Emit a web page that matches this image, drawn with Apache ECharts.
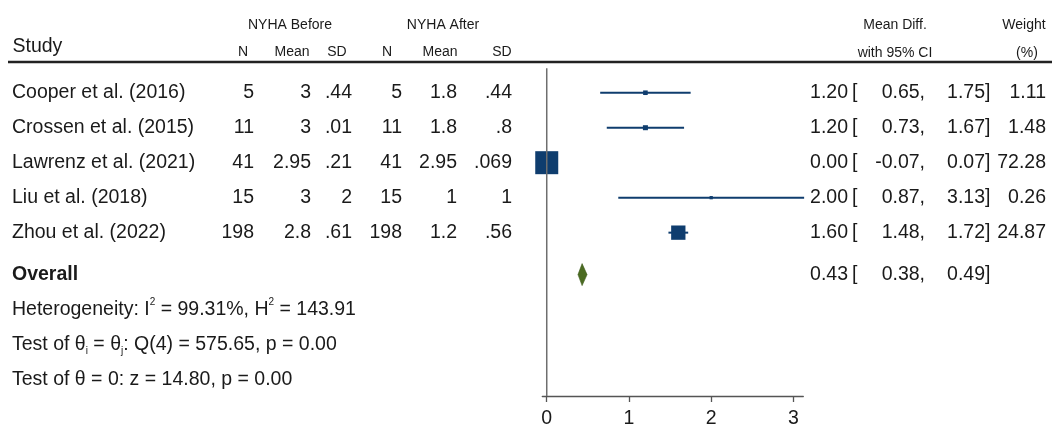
<!DOCTYPE html>
<html><head><meta charset="utf-8">
<script src="https://cdn.jsdelivr.net/npm/echarts@6/dist/echarts.min.js"></script>
<style>html,body{margin:0;padding:0;background:#fff}#c{width:1052px;height:429px}</style>
</head><body><div id="c"></div>
<script>
// ---- data ----
const studies = ['Cooper et al. (2016)', 'Crossen et al. (2015)', 'Lawrenz et al. (2021)', 'Liu et al. (2018)', 'Zhou et al. (2022)'];
const nBefore = [5, 11, 41, 15, 198];
const meanBefore = [3, 3, 2.95, 3, 2.8];
const sdBefore = [0.44, 0.01, 0.21, 2, 0.61];
const nAfter = [5, 11, 41, 15, 198];
const meanAfter = [1.8, 1.8, 2.95, 1, 1.2];
const sdAfter = [0.44, 0.8, 0.069, 1, 0.56];
const meanDiff = [1.20, 1.20, 0.00, 2.00, 1.60];
const ciLow = [0.65, 0.73, -0.07, 0.87, 1.48];
const ciHigh = [1.75, 1.67, 0.07, 3.13, 1.72];
const weights = [1.11, 1.48, 72.28, 0.26, 24.87];
const overallEst = 0.43, overallLow = 0.38, overallHigh = 0.49;
const statLines = ['Heterogeneity: {t|I}{sup|2}{t| = 99.31%, H}{sup|2}{t| = 143.91}',
                   'Test of θ{sub|i}{t| = θ}{sub|j}{t|: Q(4) = 575.65, p = 0.00}',
                   'Test of θ = 0: z = 14.80, p = 0.00'];
const xTicks = [0, 1, 2, 3];

// ---- styles ----
const FONT = "'Liberation Sans', Arial, sans-serif";
const FS = 19.5, HFS = 14;
const TXT = '#1a1a1a';
const NAVY = '#0f3d6e';
const GREEN = '#4b6b22';
const fmt = v => String(v).replace(/^0\./, '.').replace(/^-0\./, '-.');
const f2 = v => v.toFixed(2);
const maxW = Math.max(...weights);
const nS = studies.length;
const overallRow = nS + 0.2;
const yMin = -0.85, yMax = 8.67;

const leftCols = [
  {x: 12, align: 'left', get: i => studies[i]},
  {x: 254, align: 'right', get: i => fmt(nBefore[i])},
  {x: 311, align: 'right', get: i => fmt(meanBefore[i])},
  {x: 352, align: 'right', get: i => fmt(sdBefore[i])},
  {x: 402, align: 'right', get: i => fmt(nAfter[i])},
  {x: 457, align: 'right', get: i => fmt(meanAfter[i])},
  {x: 512, align: 'right', get: i => fmt(sdAfter[i])}
];

function ciCols(est, lo, hi) {
  return [
    {x: 848, align: 'right', text: f2(est)},
    {x: 852, align: 'left', text: '['},
    {x: 925, align: 'right', text: f2(lo) + ','},
    {x: 985, align: 'right', text: f2(hi)},
    {x: 985, align: 'left', text: ']'}
  ];
}

function txt(x, y, text, align, extra) {
  return {type: 'text', style: Object.assign({x: x, y: y, text: text, textAlign: align, textVerticalAlign: 'middle',
    fill: TXT, fontSize: FS, fontFamily: FONT}, extra || {})};
}
function htxt(x, y, text, size) {
  return {type: 'text', silent: true, style: {x: x, y: y, text: text, textAlign: size === FS ? 'left' : 'center',
    textVerticalAlign: 'middle', fill: TXT, fontSize: size, fontFamily: FONT}};
}

const chart = echarts.init(document.getElementById('c'));
chart.setOption({
  animation: false,
  backgroundColor: '#fff',
  grid: {left: 542.3, right: 248.7, top: 63, bottom: 29, containLabel: false},
  xAxis: {
    type: 'value', min: -0.054, max: 3.12,
    axisLine: {show: true, onZero: false, lineStyle: {color: '#555', width: 1.3}},
    axisTick: {show: true, length: 6, lineStyle: {color: '#555', width: 1.3}, customValues: xTicks},
    axisLabel: {show: true, customValues: xTicks, color: TXT, fontSize: FS, fontFamily: FONT, margin: 13, formatter: v => String(v)},
    splitLine: {show: false}
  },
  yAxis: {type: 'value', min: yMin, max: yMax, inverse: true, show: false, splitLine: {show: false}},
  graphic: [
    htxt(290, 25, 'NYHA Before', HFS),
    htxt(443, 25, 'NYHA After', HFS),
    htxt(895, 25, 'Mean Diff.', HFS),
    htxt(1024, 25, 'Weight', HFS),
    htxt(12.5, 47, 'Study', FS),
    htxt(243, 52, 'N', HFS),
    htxt(292, 52, 'Mean', HFS),
    htxt(337, 52, 'SD', HFS),
    htxt(387, 52, 'N', HFS),
    htxt(440, 52, 'Mean', HFS),
    htxt(502, 52, 'SD', HFS),
    htxt(895, 53, 'with 95% CI', HFS),
    htxt(1027, 53, '(%)', HFS),
    {type: 'line', silent: true, shape: {x1: 8, y1: 62, x2: 1052, y2: 62}, style: {stroke: '#222', lineWidth: 2.5}}
  ],
  series: [
    { // study CIs and weight squares
      type: 'custom', z: 2,
      data: studies.map((s, i) => [meanDiff[i], ciLow[i], ciHigh[i], weights[i], i]),
      encode: {x: [0, 1, 2], y: 4},
      renderItem: function (params, api) {
        const row = api.value(4);
        const pE = api.coord([api.value(0), row]);
        const pL = api.coord([api.value(1), row]);
        const pH = api.coord([api.value(2), row]);
        const side = 21 * Math.sqrt(api.value(3) / maxW) + 2;
        return {type: 'group', children: [
          {type: 'line', shape: {x1: pL[0], y1: pL[1], x2: pH[0], y2: pH[1]}, style: {stroke: NAVY, lineWidth: 2}},
          {type: 'rect', shape: {x: pE[0] - side / 2, y: pE[1] - side / 2, width: side, height: side}, style: {fill: NAVY}}
        ]};
      }
    },
    { // line of no effect
      type: 'custom', z: 3,
      data: [[0]],
      encode: {x: 0},
      renderItem: function (params, api) {
        const a = api.coord([api.value(0), -0.7]);
        const b = api.coord([api.value(0), yMax]);
        return {type: 'line', shape: {x1: a[0], y1: a[1], x2: b[0], y2: b[1]}, style: {stroke: '#6e6e6e', lineWidth: 1.5}};
      }
    },
    { // overall diamond
      type: 'custom', z: 4,
      data: [[overallEst, overallLow, overallHigh, overallRow]],
      encode: {x: [0, 1, 2], y: 3},
      renderItem: function (params, api) {
        const row = api.value(3);
        const pE = api.coord([api.value(0), row]);
        const pL = api.coord([api.value(1), row]);
        const pH = api.coord([api.value(2), row]);
        const h = 11;
        return {type: 'polygon', shape: {points: [[pL[0], pE[1]], [pE[0], pE[1] - h], [pH[0], pE[1]], [pE[0], pE[1] + h]]},
          style: {fill: GREEN, stroke: '#3d5a1a', lineWidth: 0.6}};
      }
    },
    { // table text per study
      type: 'custom', z: 5, silent: true,
      data: studies.map((s, i) => [i]),
      encode: {y: 0},
      renderItem: function (params, api) {
        const i = api.value(0);
        const y = api.coord([0, i])[1];
        const kids = leftCols.map(c => txt(c.x, y, c.get(i), c.align));
        ciCols(meanDiff[i], ciLow[i], ciHigh[i]).forEach(c => kids.push(txt(c.x, y, c.text, c.align)));
        kids.push(txt(1046, y, f2(weights[i]), 'right'));
        return {type: 'group', children: kids};
      }
    },
    { // overall row + statistics lines
      type: 'custom', z: 5, silent: true,
      data: [[overallRow, -1], [overallRow + 1, 0], [overallRow + 2, 1], [overallRow + 3, 2]],
      encode: {y: 0},
      renderItem: function (params, api) {
        const row = api.value(0), k = api.value(1);
        const y = api.coord([0, row])[1];
        if (k < 0) {
          const kids = [txt(12, y, 'Overall', 'left', {fontWeight: 'bold'})];
          ciCols(overallEst, overallLow, overallHigh).forEach(c => kids.push(txt(c.x, y, c.text, c.align)));
          return {type: 'group', children: kids};
        }
        const s = statLines[k];
        const rich = {
          t: {fontSize: FS, fontFamily: FONT, fill: TXT, lineHeight: 24},
          sup: {fontSize: 10, fontFamily: FONT, fill: TXT, lineHeight: 24, verticalAlign: 'top'},
          sub: {fontSize: 10, fontFamily: FONT, fill: TXT, lineHeight: 24, verticalAlign: 'bottom'}
        };
        const first = s.indexOf('{');
        const text = first < 0 ? '{t|' + s + '}' : '{t|' + s.slice(0, first) + '}' + s.slice(first);
        return {type: 'text', style: {x: 12, y: y, text: text, rich: rich, textAlign: 'left', textVerticalAlign: 'middle',
          fill: TXT, fontSize: FS, fontFamily: FONT}};
      }
    }
  ]
});
</script>
</body></html>
